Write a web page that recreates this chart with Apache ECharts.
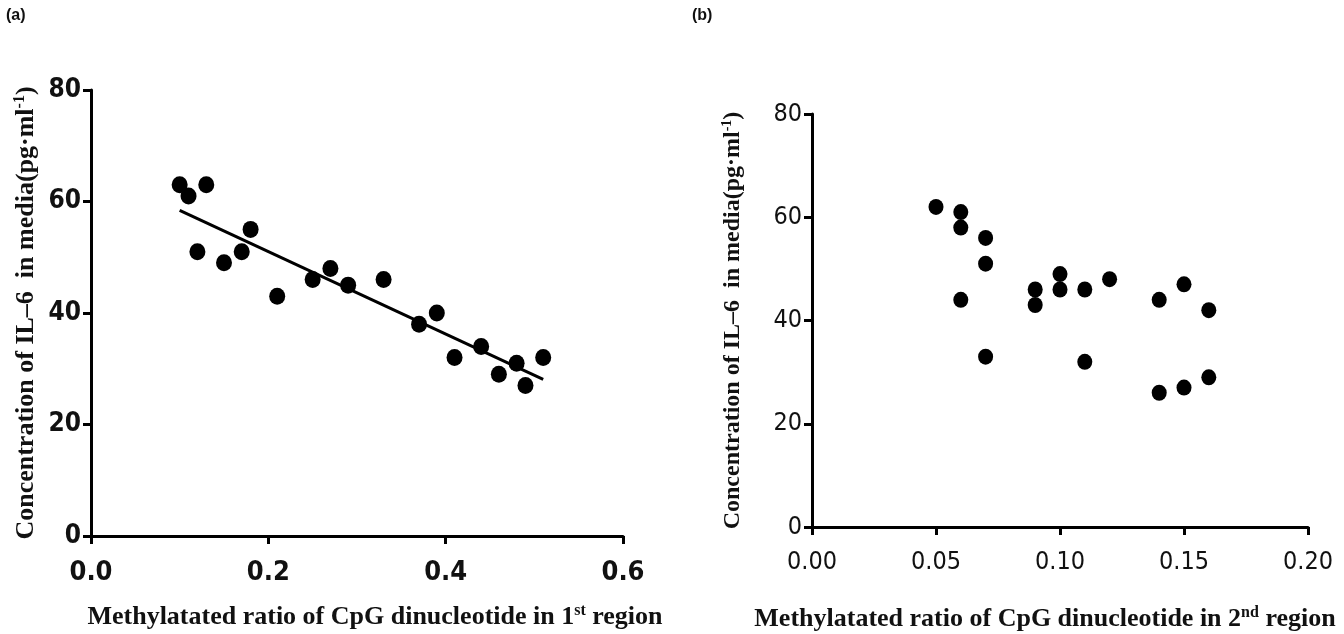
<!DOCTYPE html>
<html>
	<head>
		<meta charset="UTF-8">
		<title>index</title>
		<script src="https://cdn.jsdelivr.net/npm/echarts@6/dist/echarts.min.js"></script>
		<style>
			html,body{margin:0;padding:0;background:#fff;}
			#main{width:1344px;height:634px;}
		</style>
	</head>
	<body>
		<div id="main"></div>
		<script>
			// panel (a): 1st region
			const ratio_a = [0.10,0.11,0.13,0.12,0.15,0.17,0.18,0.21,0.25,0.27,0.29,0.33,0.37,0.39,0.41,0.44,0.46,0.48,0.49,0.51]
			const il6_a   = [63,61,63,51,49,51,55,43,46,48,45,46,38,40,32,34,29,31,27,32]
			// fitted line (two ends)
			const fit_x = [0.10,0.51]
			const fit_y = [58.4,28.1]

			// panel (b): 2nd region
			const ratio_b = [0.05,0.06,0.06,0.07,0.07,0.06,0.07,0.09,0.09,0.10,0.10,0.11,0.11,0.12,0.14,0.15,0.16,0.14,0.15,0.16]
			const il6_b   = [62,61,58,56,51,44,33,46,43,49,46,46,32,48,44,47,42,26,27,29]

			const xticks_a = [0,0.6,0.2]   // min, max, step
			const xticks_b = [0,0.2,0.05]
			const yticks   = [0,80,20]

			const yname = 'Concentration of IL–6  in media(pg·ml{sup|-1})'
			const xname_a = 'Methylatated ratio of CpG dinucleotide in 1{sup|st} region'
			const xname_b = 'Methylatated ratio of CpG dinucleotide in 2{sup|nd} region'

			function pairs(xs,ys){
				let out = []
				for (let i=0;i<xs.length;i++) out.push([xs[i],ys[i]])
				return out
			}

			const serif = '"Liberation Serif","DejaVu Serif",serif'
			const narrow = '"DejaVu Sans Condensed","Liberation Sans Narrow",sans-serif'

			function titleStyle(size){
				return {
					fontFamily: serif, fontWeight: 'bold', fontSize: size, color: '#111',
					rich: { sup: { fontFamily: serif, fontWeight: 'bold', fontSize: Math.round(size*0.6), verticalAlign: 'top', padding: [0,0,Math.round(size*0.45),0], color:'#111' } }
				}
			}
			const axLine = { show: true, lineStyle: { color: '#000', width: 3 } }
			const axTick = { show: true, length: 8, lineStyle: { color: '#000', width: 3 } }

			let chart = echarts.init(document.getElementById('main'))
			chart.setOption({
				backgroundColor: '#fff',
				animation: false,
				graphic: [
					{ type: 'text', left: 6, top: 8, style: { text: '(a)', font: 'bold 16px "Liberation Sans",Arial,sans-serif', fill: '#111' } },
					{ type: 'text', left: 692, top: 8, style: { text: '(b)', font: 'bold 16px "Liberation Sans",Arial,sans-serif', fill: '#111' } }
				],
				grid: [
					{ left: 91, top: 90, width: 532, height: 446, containLabel: false, outerBoundsMode: 'none' },
					{ left: 812, top: 114, width: 496, height: 413, containLabel: false, outerBoundsMode: 'none' }
				],
				xAxis: [
					{
						gridIndex: 0, type: 'value', min: xticks_a[0], max: xticks_a[1], interval: xticks_a[2],
						splitLine: { show: false }, axisLine: axLine, axisTick: axTick,
						axisLabel: { margin: 23, fontFamily: narrow, fontWeight: 'bold', fontSize: 27, color: '#111', formatter: v => v.toFixed(1) },
						name: xname_a, nameLocation: 'middle', nameGap: 67,
						nameTextStyle: Object.assign(titleStyle(26), { padding: [0,0,0,36] })
					},
					{
						gridIndex: 1, type: 'value', min: xticks_b[0], max: xticks_b[1], interval: xticks_b[2],
						splitLine: { show: false }, axisLine: axLine, axisTick: axTick,
						axisLabel: { margin: 23, fontFamily: narrow, fontSize: 25, color: '#111', formatter: v => v.toFixed(2) },
						name: xname_b, nameLocation: 'middle', nameGap: 78,
						nameTextStyle: Object.assign(titleStyle(26), { padding: [0,30,0,0] })
					}
				],
				yAxis: [
					{
						gridIndex: 0, type: 'value', min: yticks[0], max: yticks[1], interval: yticks[2],
						splitLine: { show: false }, axisLine: axLine, axisTick: axTick,
						axisLabel: { margin: 10, fontFamily: narrow, fontWeight: 'bold', fontSize: 26, color: '#111' },
						name: yname, nameLocation: 'middle', nameGap: 51, nameRotate: 90,
						nameTextStyle: titleStyle(26)
					},
					{
						gridIndex: 1, type: 'value', min: yticks[0], max: yticks[1], interval: yticks[2],
						splitLine: { show: false }, axisLine: axLine, axisTick: axTick,
						axisLabel: { margin: 10, fontFamily: narrow, fontSize: 25, color: '#111' },
						name: yname, nameLocation: 'middle', nameGap: 67, nameRotate: 90,
						nameTextStyle: titleStyle(24)
					}
				],
				series: [
					{
						type: 'scatter', xAxisIndex: 0, yAxisIndex: 0, data: pairs(ratio_a,il6_a),
						symbol: 'circle', symbolSize: [16,17], itemStyle: { color: '#000', opacity: 1 }, z: 3
					},
					{
						type: 'line', xAxisIndex: 0, yAxisIndex: 0, data: pairs(fit_x,fit_y),
						showSymbol: false, symbol: 'none', lineStyle: { color: '#000', width: 3 }, z: 2
					},
					{
						type: 'scatter', xAxisIndex: 1, yAxisIndex: 1, data: pairs(ratio_b,il6_b),
						symbol: 'circle', symbolSize: [15,16], itemStyle: { color: '#000', opacity: 1 }
					}
				]
			})
		</script>
	</body>
</html>
